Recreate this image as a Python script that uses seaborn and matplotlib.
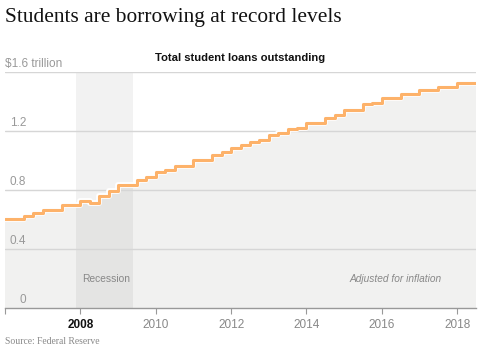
import matplotlib
matplotlib.use("Agg")
import matplotlib.pyplot as plt
import matplotlib.patheffects as pe
import matplotlib.transforms as mtransforms
import numpy as np
import pandas as pd
import seaborn as sns

# quarterly student loans outstanding (trillions, inflation adjusted), 2006Q1 .. 2018Q2
start_year = 2006
loans = [0.603, 0.603, 0.625, 0.644, 0.664, 0.664, 0.698, 0.698,
         0.723, 0.716, 0.759, 0.797, 0.836, 0.836, 0.866, 0.889,
         0.920, 0.935, 0.967, 0.967, 1.005, 1.005, 1.039, 1.059,
         1.089, 1.108, 1.129, 1.143, 1.177, 1.187, 1.215, 1.222,
         1.258, 1.258, 1.292, 1.312, 1.346, 1.346, 1.382, 1.391,
         1.427, 1.427, 1.452, 1.452, 1.482, 1.482, 1.502, 1.502,
         1.526, 1.526]
end_year = 2018.5

recession = (2007.88, 2009.4)
y_ticks = [0, 0.4, 0.8, 1.2, 1.6]
y_labels = ["0", "0.4", "0.8", "1.2", "$1.6 trillion"]
x_ticks = [2006, 2008, 2010, 2012, 2014, 2016, 2018]
x_labels = ["", "2008", "2010", "2012", "2014", "2016", "2018"]

t = start_year + np.arange(len(loans)) / 4
df = pd.DataFrame({"year": np.append(t, end_year), "loans": loans + [loans[-1]]})

sns.set_theme(style="white")
plt.rcParams["font.family"] = ["Liberation Sans", "DejaVu Sans"]

fig = plt.figure(figsize=(5, 3.64), dpi=100)
ax = fig.add_axes([0.01, 0.1538, 0.942, 0.6476])

ax.fill_between(df["year"], df["loans"], step="post", color="#f1f1f0", lw=0, zorder=1)
ax.axvspan(recession[0], recession[1], color="black", alpha=0.05, lw=0, zorder=2)

for y in y_ticks[1:]:
    ax.axhline(y, color="#d6d6d6", lw=1, zorder=3)

sns.lineplot(data=df, x="year", y="loans", drawstyle="steps-post", color="#fdb26a",
             lw=2.2, ax=ax, zorder=5,
             path_effects=[pe.Stroke(linewidth=4.2, foreground="white"), pe.Normal()])

ax.set_xlim(start_year, end_year)
ax.set_ylim(0, 1.6)
ax.set_xlabel("")
ax.set_ylabel("")
ax.set_yticks([])
ax.set_xticks(x_ticks)
ax.set_xticklabels(x_labels)
ax.tick_params(axis="x", direction="out", length=4, width=0.8, color="#999999",
               labelsize=8.5, labelcolor="#888888", pad=4, bottom=True)
for lab in ax.get_xticklabels():
    if lab.get_text() == "2008":
        lab.set_fontweight("bold")
        lab.set_color("#111111")

for s in ["top", "left", "right"]:
    ax.spines[s].set_visible(False)
ax.spines["bottom"].set_color("#999999")
ax.spines["bottom"].set_linewidth(1)

# y labels sit just above the gridlines
trans = mtransforms.blended_transform_factory(ax.transAxes, ax.transData)
nudge = mtransforms.ScaledTranslation(0, 1.5 / 72, fig.dpi_scale_trans)
for y, lab in zip(y_ticks, y_labels):
    if lab.startswith("$"):
        ax.text(-0.001, y, lab, transform=trans + nudge, ha="left", va="bottom",
                fontsize=8.5, color="#999999", zorder=6)
    else:
        ax.text(0.0446, y, lab, transform=trans + nudge, ha="right", va="bottom",
                fontsize=8.5, color="#999999", zorder=6)

ax.text(2008.04, 0.2, "Recession", fontsize=7.4, color="#888888", va="center", ha="left")
ax.text(2017.58, 0.2, "Adjusted for inflation", fontsize=7.3, color="#888888",
        style="italic", va="center", ha="right")

fig.text(0.01, 0.953, "Students are borrowing at record levels", fontsize=15.4,
         family=["Liberation Serif", "DejaVu Serif"], color="#121212", va="center", ha="left")
fig.text(0.48, 0.840, "Total student loans outstanding", fontsize=8.1, fontweight="bold",
         color="#111111", va="center", ha="center")
fig.text(0.01, 0.063, "Source: Federal Reserve", fontsize=6.9,
         family=["Liberation Serif", "DejaVu Serif"], color="#888888", va="center", ha="left")

fig.savefig("out.png", dpi=100)
